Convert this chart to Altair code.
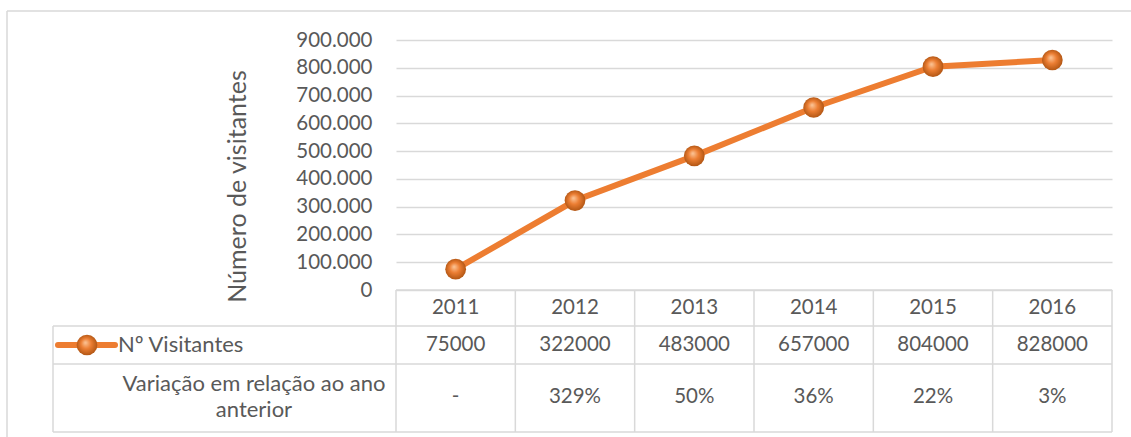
import altair as alt
import pandas as pd

# ---- data ----
years = ["2011", "2012", "2013", "2014", "2015", "2016"]
visitors = [75000, 322000, 483000, 657000, 804000, 828000]
variation = ["-", "329%", "50%", "36%", "22%", "3%"]
series_name = "Nº Visitantes"
row2_line1 = "Variação em relação ao ano"
row2_line2 = "anterior"
y_title = "Número de visitantes"
y_ticks = [0, 100000, 200000, 300000, 400000, 500000, 600000, 700000, 800000, 900000]

df = pd.DataFrame({
    "year": years,
    "visitors": visitors,
    "visitors_txt": [str(v) for v in visitors],
    "variation": variation,
})
one = pd.DataFrame({"k": [0]})

# ---- style ----
W, H = 716, 250
ORANGE = "#ED7D31"
GRID = "#D9D9D9"
TEXT = "#595959"
FONT = "Lato"
FS = 20.5

xscale = alt.Scale(type="band", domain=years, paddingInner=0, paddingOuter=0)
x_c = alt.X("year:O", scale=xscale, axis=None, bandPosition=0.5)
x_l = alt.X("year:O", scale=xscale, axis=None, bandPosition=0)

y = alt.Y(
    "visitors:Q",
    scale=alt.Scale(domain=[0, 900000], nice=False, zero=True),
    axis=alt.Axis(
        values=y_ticks,
        labelExpr="replace(format(datum.value, ','), ',', '.')",
        grid=True, gridColor=GRID, gridWidth=1.4,
        domain=False, ticks=False, labelPadding=24,
        labelFontSize=FS, labelColor=TEXT, labelFont=FONT,
        title=y_title, titleX=-159, titleY=146, titleAngle=270,
        titleAlign="center", titleBaseline="middle",
        titleFontSize=25, titleFontWeight="normal", titleColor=TEXT, titleFont=FONT,
    ),
)

sphere = alt.RadialGradient(
    gradient="radial",
    stops=[
        alt.GradientStop(offset=0, color="#FCC79A"),
        alt.GradientStop(offset=0.45, color="#EC7E33"),
        alt.GradientStop(offset=1, color="#A9500F"),
    ],
    x1=0.42, y1=0.38, r1=0, x2=0.5, y2=0.5, r2=0.55,
)

base = alt.Chart(df)

line = base.mark_line(color=ORANGE, strokeWidth=6).encode(x=x_c, y=y)
pts = base.mark_circle(size=430, opacity=1, fill=sphere).encode(x=x_c, y=y)

def hrule(yv, x0, x1):
    return alt.Chart(one).mark_rule(color=GRID, strokeWidth=1.5).encode(
        x=alt.value(x0), x2=alt.value(x1), y=alt.value(yv))

# table borders
rules = [
    hrule(250, 0, W),
    hrule(286, -343, W),
    hrule(324, -343, W),
    hrule(392, -343, W),
    alt.Chart(one).mark_rule(color=GRID, strokeWidth=1.5).encode(
        x=alt.value(-343), y=alt.value(286), y2=alt.value(392)),
    alt.Chart(one).mark_rule(color=GRID, strokeWidth=1.5).encode(
        x=alt.value(W), y=alt.value(250), y2=alt.value(392)),
    base.mark_rule(color=GRID, strokeWidth=1.5).encode(
        x=x_l, y=alt.value(250), y2=alt.value(392)),
]

# outer chart border (left & top)
outer = [
    alt.Chart(one).mark_rule(color=GRID, strokeWidth=1.5).encode(
        x=alt.value(-389), y=alt.value(-29), y2=alt.value(400)),
    alt.Chart(one).mark_rule(color=GRID, strokeWidth=1.5).encode(
        x=alt.value(-389), x2=alt.value(740), y=alt.value(-29)),
]

tkw = dict(font=FONT, fontSize=FS, color=TEXT, baseline="middle")
lkw = dict(font=FONT, fontSize=22, color=TEXT, baseline="middle")
hdr = base.mark_text(align="center", **tkw).encode(x=x_c, y=alt.value(268), text="year:N")
row1 = base.mark_text(align="center", **tkw).encode(x=x_c, y=alt.value(305), text="visitors_txt:N")
row2 = base.mark_text(align="center", **tkw).encode(x=x_c, y=alt.value(357), text="variation:N")

lab1 = alt.Chart(one).mark_text(align="left", text=series_name, **lkw).encode(
    x=alt.value(-278), y=alt.value(305))
lab2a = alt.Chart(one).mark_text(align="center", text=row2_line1, **lkw).encode(
    x=alt.value(-142), y=alt.value(344))
lab2b = alt.Chart(one).mark_text(align="center", text=row2_line2, **lkw).encode(
    x=alt.value(-142), y=alt.value(370))

key_line = alt.Chart(one).mark_rule(color=ORANGE, strokeWidth=6, strokeCap="round").encode(
    x=alt.value(-338), x2=alt.value(-281), y=alt.value(305))
key_pt = alt.Chart(one).mark_circle(size=430, opacity=1, fill=sphere).encode(
    x=alt.value(-309), y=alt.value(305))

chart = alt.layer(
    *outer, *rules, line, pts, hdr, row1, row2, lab1, lab2a, lab2b, key_line, key_pt
).properties(
    width=W, height=H,
    padding={"left": 396, "top": 40, "right": 19, "bottom": 147},
    autosize=alt.AutoSizeParams(type="none"),
    background="white",
).configure_view(stroke=None)

chart.save("out.html", embed_options={"renderer": "svg", "actions": False})
